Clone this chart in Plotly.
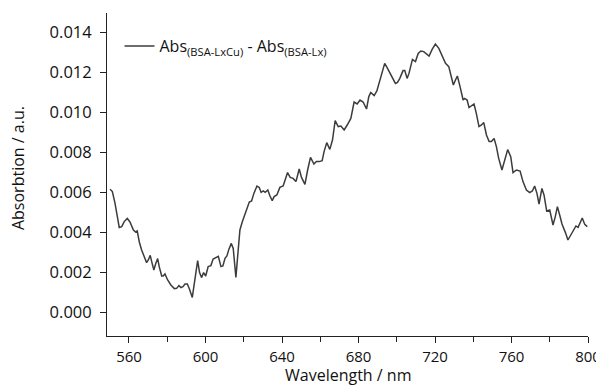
import plotly.graph_objects as go

wavelength = [550.1, 551.3, 552.7, 554.1, 554.9, 556.2, 557.5, 559.1, 560.5, 562.3, 563.5, 564.3,
              565.4, 566.6, 568.0, 569.2, 570.1, 571.1, 572.0, 573.0, 573.9, 575.0, 575.8, 577.1,
              577.9, 578.8, 580.2, 581.9, 583.7, 584.9, 586.1, 587.2, 588.2, 589.3, 590.5, 591.5,
              593.1, 594.1, 595.9, 596.9, 598.0, 599.0, 600.1, 601.4, 602.8, 604.0, 605.3, 606.7,
              608.1, 609.1, 610.2, 611.2, 612.2, 613.5, 614.5, 615.9, 617.1, 618.0, 619.2, 620.6,
              621.8, 622.9, 624.1, 625.3, 626.9, 628.1, 629.1, 630.2, 631.2, 632.6, 633.7, 634.9,
              635.9, 637.3, 638.9, 640.6, 641.9, 642.9, 644.3, 645.8, 647.3, 649.0, 650.2, 652.0,
              653.4, 654.9, 656.7, 658.0, 659.5, 661.0, 662.0, 663.4, 665.0, 666.4, 667.8, 669.4,
              670.8, 672.5, 674.1, 676.0, 677.7, 679.3, 680.8, 682.4, 684.2, 685.4, 686.4, 688.2,
              689.6, 691.1, 692.5, 693.7, 694.9, 696.4, 698.1, 699.3, 700.4, 701.6, 703.3, 704.2,
              705.4, 706.4, 708.2, 709.8, 711.2, 712.6, 714.1, 715.5, 716.9, 718.5, 720.2, 722.0,
              723.7, 725.5, 727.2, 728.6, 729.6, 730.7, 731.7, 733.1, 734.7, 735.5, 736.8, 737.8,
              739.0, 740.4, 741.6, 743.0, 744.3, 745.5, 746.9, 748.3, 749.5, 750.9, 752.1, 753.3,
              755.0, 756.4, 758.0, 759.6, 760.8, 762.6, 764.5, 766.0, 767.8, 769.5, 770.9, 772.1,
              773.3, 774.4, 775.9, 777.0, 778.4, 780.0, 781.7, 782.9, 784.0, 785.2, 786.4, 788.2,
              789.5, 791.0, 792.3, 793.7, 794.8, 795.8, 797.0, 798.3, 799.6]

absorbance = [0.00614, 0.00602, 0.00543, 0.00460, 0.00423, 0.00427, 0.00452, 0.00468, 0.00450, 0.00410, 0.00400, 0.00405,
              0.00350, 0.00310, 0.00273, 0.00247, 0.00260, 0.00283, 0.00247, 0.00210, 0.00240, 0.00267, 0.00227, 0.00180,
              0.00180, 0.00190, 0.00160, 0.00135, 0.00117, 0.00118, 0.00132, 0.00122, 0.00127, 0.00140, 0.00140, 0.00118,
              0.00073, 0.00143, 0.00257, 0.00197, 0.00172, 0.00197, 0.00180, 0.00227, 0.00232, 0.00265, 0.00273, 0.00278,
              0.00227, 0.00230, 0.00268, 0.00280, 0.00313, 0.00343, 0.00318, 0.00173, 0.00310, 0.00410, 0.00450, 0.00485,
              0.00520, 0.00550, 0.00555, 0.00593, 0.00630, 0.00623, 0.00598, 0.00605, 0.00598, 0.00610, 0.00580, 0.00557,
              0.00577, 0.00585, 0.00623, 0.00630, 0.00668, 0.00697, 0.00673, 0.00668, 0.00652, 0.00715, 0.00673, 0.00638,
              0.00710, 0.00773, 0.00740, 0.00753, 0.00752, 0.00757, 0.00802, 0.00847, 0.00813, 0.00860, 0.00957, 0.00927,
              0.00930, 0.00910, 0.00935, 0.00968, 0.01050, 0.01040, 0.01060, 0.01050, 0.01015, 0.01077, 0.01098, 0.01082,
              0.01105, 0.01157, 0.01202, 0.01243, 0.01223, 0.01197, 0.01165, 0.01143, 0.01148, 0.01168, 0.01207, 0.01207,
              0.01168, 0.01193, 0.01263, 0.01252, 0.01293, 0.01305, 0.01302, 0.01293, 0.01280, 0.01313, 0.01340, 0.01318,
              0.01285, 0.01243, 0.01227, 0.01177, 0.01135, 0.01160, 0.01180, 0.01127, 0.01060, 0.01068, 0.01060, 0.01022,
              0.01030, 0.01040, 0.00993, 0.00927, 0.00935, 0.00947, 0.00885, 0.00852, 0.00852, 0.00868, 0.00827, 0.00768,
              0.00710, 0.00752, 0.00812, 0.00777, 0.00697, 0.00710, 0.00705, 0.00652, 0.00610, 0.00597, 0.00605, 0.00630,
              0.00593, 0.00540, 0.00618, 0.00585, 0.00505, 0.00510, 0.00435, 0.00477, 0.00527, 0.00485, 0.00440, 0.00397,
              0.00360, 0.00385, 0.00410, 0.00430, 0.00423, 0.00443, 0.00470, 0.00438, 0.00427]

x_ticks = [560, 600, 640, 680, 720, 760, 800]
y_ticks = [0.000, 0.002, 0.004, 0.006, 0.008, 0.010, 0.012, 0.014]
y_tick_labels = ["0.000", "0.002", "0.004", "0.006", "0.008", "0.010", "0.012", "0.014"]

FONT = "Open Sans"

fig = go.Figure()
fig.add_trace(go.Scatter(
    x=wavelength, y=absorbance, mode="lines",
    line=dict(color="#3c3c3c", width=1.5),
    name="Abs<sub>(BSA-LxCu)</sub> - Abs<sub>(BSA-Lx)</sub>",
    showlegend=True,
))

# page body has an 8px margin, so the figure is sized to fit inside the window
fig.update_layout(
    width=596, height=377,
    margin=dict(l=99, r=16, t=5, b=49, autoexpand=False),
    paper_bgcolor="white", plot_bgcolor="white",
    font=dict(family=FONT, size=15, color="#111111"),
    showlegend=True,
    legend=dict(x=0.026, y=0.95, xanchor="left", yanchor="top",
                bgcolor="rgba(0,0,0,0)", borderwidth=0,
                font=dict(family=FONT, size=16, color="#111111"),
                itemwidth=30),
    xaxis=dict(
        range=[548.5, 800], tickvals=x_ticks, automargin=False,
        showgrid=False, zeroline=False,
        showline=True, linecolor="#222222", linewidth=1,
        ticks="outside", ticklen=6, tickwidth=1, tickcolor="#222222",
        minor=dict(dtick=20, tick0=560, ticks="outside", ticklen=5, tickwidth=1, tickcolor="#222222"),
        ticklabelstandoff=1,
        tickfont=dict(family=FONT, size=15),
    ),
    yaxis=dict(
        range=[-0.0012, 0.01495], tickvals=y_ticks, ticktext=y_tick_labels, automargin=False,
        showgrid=False, zeroline=False,
        showline=True, linecolor="#222222", linewidth=1,
        ticks="outside", ticklen=6, tickwidth=1, tickcolor="#222222",
        ticklabelstandoff=5,
        tickfont=dict(family=FONT, size=16.5),
    ),
    annotations=[
        dict(text="Wavelength / nm", xref="paper", yref="paper", x=0.5, y=-0.12,
             xanchor="center", yanchor="middle", showarrow=False, borderpad=0,
             font=dict(family=FONT, size=16)),
        dict(text="Absorbtion / a.u.", xref="paper", yref="paper", x=-0.185, y=0.52,
             xanchor="center", yanchor="middle", showarrow=False, textangle=-90, borderpad=0,
             font=dict(family=FONT, size=16)),
    ],
)

fig.write_html("out.html")
